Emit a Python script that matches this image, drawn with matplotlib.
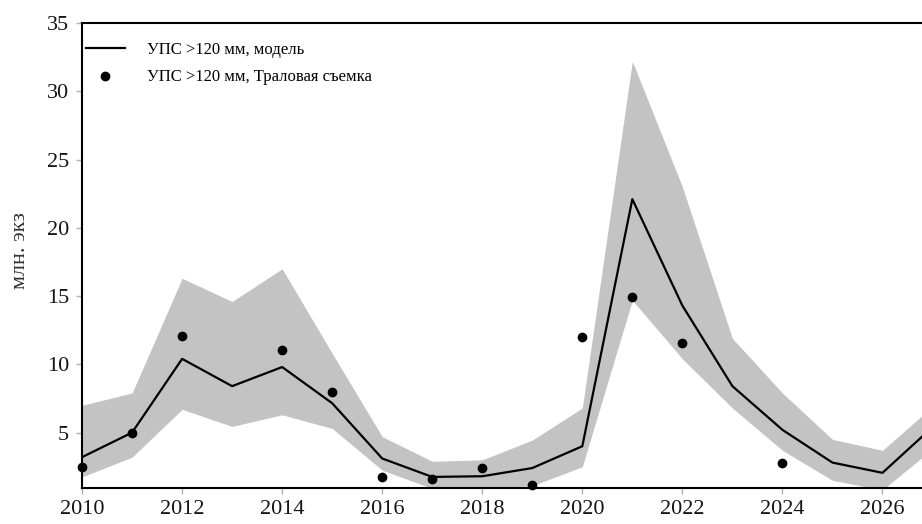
import matplotlib
matplotlib.use("Agg")
import matplotlib.pyplot as plt

years = list(range(2010, 2028))
model = [3.2, 5.0, 10.4, 8.4, 9.8, 7.15, 3.1, 1.75, 1.8, 2.4, 4.0, 22.1,
         14.3, 8.4, 5.2, 2.8, 2.05, 5.4]
upper = [7.0, 7.9, 16.3, 14.6, 17.0, 10.8, 4.7, 2.9, 3.0, 4.45, 6.8, 32.2,
         23.0, 11.9, 7.9, 4.5, 3.7, 6.9]
lower = [1.75, 3.2, 6.7, 5.45, 6.3, 5.3, 2.25, 0.9, 0.9, 1.1, 2.5, 14.7,
         10.4, 6.8, 3.7, 1.5, 0.8, 3.8]

survey_years = [2010, 2011, 2012, 2014, 2015, 2016, 2017, 2018, 2019, 2020,
                2021, 2022, 2024]
survey = [2.5, 5.0, 12.1, 11.05, 8.0, 1.73, 1.6, 2.44, 1.17, 12.0, 14.9,
          11.55, 2.8]

plt.rcParams['font.family'] = ['Liberation Serif', 'DejaVu Serif']

fig = plt.figure(figsize=(9.22, 5.24), dpi=100)
ax = fig.add_axes([0.089, 0.069, 0.911, 0.887])

ax.fill_between(years, lower, upper, color='#c3c3c3', linewidth=0)
ax.plot(years, model, color='black', linewidth=1.6, label='УПС >120 мм, модель')
ax.plot(survey_years, survey, 'o', color='black', markersize=6,
        label='УПС >120 мм, Траловая съемка', clip_on=False)

ax.set_xlim(2010, 2026.79)
ax.set_ylim(0.95, 35)
ax.set_xticks(range(2010, 2027, 2))
ax.set_yticks(range(5, 36, 5))
ax.tick_params(axis='both', labelsize=16, length=4.5, color='#b0b0b0',
               width=1, labelcolor='#151515')
ax.tick_params(axis='y', pad=5)
ax.tick_params(axis='x', pad=4)

ax.spines['right'].set_visible(False)
for s in ['left', 'top', 'bottom']:
    ax.spines[s].set_linewidth(1.5)

ax.set_ylabel('млн. экз', fontsize=16, color='#333333')
ax.yaxis.set_label_coords(-0.062, 0.51)

ax.legend(loc='upper left', frameon=False, fontsize=12, handlelength=2.3,
          borderaxespad=0, labelspacing=0.7, handletextpad=1.35,
          bbox_to_anchor=(-0.003, 0.974))

fig.savefig('out.png', dpi=100)
